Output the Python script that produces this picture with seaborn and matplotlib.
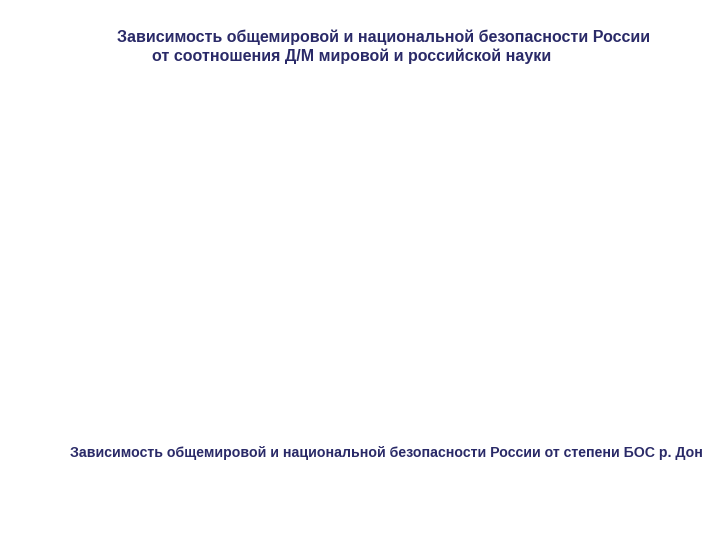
import matplotlib
matplotlib.use('Agg')
import matplotlib.pyplot as plt
import seaborn as sns

# text of the slide (no plotted data in the reference)
title_lines = [
    'Зависимость общемировой и национальной безопасности России',
    'от соотношения Д/М мировой и российской науки',
]
caption = 'Зависимость общемировой и национальной безопасности России от степени БОС р. Дон'

sns.set_theme(style='white')
plt.rcParams['font.family'] = ['Liberation Sans', 'DejaVu Sans']

navy = '#2a2a68'

fig = plt.figure(figsize=(7.2, 5.4), dpi=100)
fig.patch.set_facecolor('white')
ax = fig.add_axes([0, 0, 1, 1])
ax.set_axis_off()

W, H = 720, 540
# title lines, left aligned at their own indents
fig.text(117 / W, 1 - 37 / H, title_lines[0], color=navy, fontsize=11.5,
         fontweight='bold', ha='left', va='center')
fig.text(152 / W, 1 - 56 / H, title_lines[1], color=navy, fontsize=11.5,
         fontweight='bold', ha='left', va='center')

# caption at the bottom: shrink until it spans about 630 px like the reference
cap = fig.text(70 / W, 1 - 453 / H, caption, color=navy, fontsize=11,
               fontweight='bold', ha='left', va='center')
renderer = fig.canvas.get_renderer()
width = cap.get_window_extent(renderer).width
cap.set_fontsize(11 * 630 / width)

fig.savefig('out.png', dpi=100, facecolor='white')
